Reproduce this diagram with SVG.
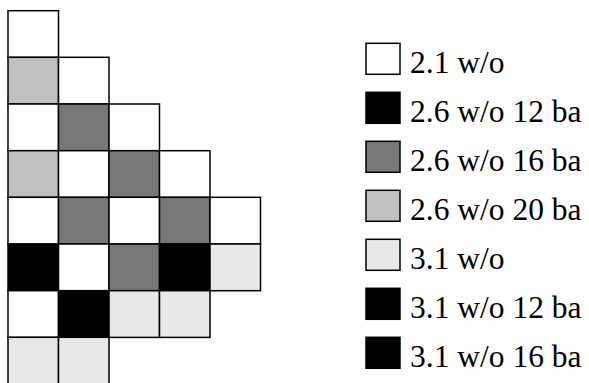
<svg xmlns="http://www.w3.org/2000/svg" width="589" height="383" viewBox="0 0 589 383">
<style>
.c{stroke:#000;stroke-width:1.5}
.w{fill:#fff}.k{fill:#000}.d{fill:#777}.l{fill:#c0c0c0}.v{fill:#e8e8e8}
.t{font-family:"Liberation Serif","Times New Roman",serif;font-size:31.5px;fill:#000}
</style>
<rect width="589" height="383" fill="#fff"/>
<g id="grid">
<rect class="c w" x="8" y="10.7" width="50.5" height="46.7"/>
<rect class="c l" x="8" y="57.3" width="50.5" height="46.7"/>
<rect class="c w" x="58.5" y="57.3" width="50.5" height="46.7"/>
<rect class="c w" x="8" y="104" width="50.5" height="46.7"/>
<rect class="c d" x="58.5" y="104" width="50.5" height="46.7"/>
<rect class="c w" x="109" y="104" width="50.5" height="46.7"/>
<rect class="c l" x="8" y="150.7" width="50.5" height="46.7"/>
<rect class="c w" x="58.5" y="150.7" width="50.5" height="46.7"/>
<rect class="c d" x="109" y="150.7" width="50.5" height="46.7"/>
<rect class="c w" x="159.5" y="150.7" width="50.5" height="46.7"/>
<rect class="c w" x="8" y="197.3" width="50.5" height="46.7"/>
<rect class="c d" x="58.5" y="197.3" width="50.5" height="46.7"/>
<rect class="c w" x="109" y="197.3" width="50.5" height="46.7"/>
<rect class="c d" x="159.5" y="197.3" width="50.5" height="46.7"/>
<rect class="c w" x="210" y="197.3" width="50.5" height="46.7"/>
<rect class="c k" x="8" y="244" width="50.5" height="46.7"/>
<rect class="c w" x="58.5" y="244" width="50.5" height="46.7"/>
<rect class="c d" x="109" y="244" width="50.5" height="46.7"/>
<rect class="c k" x="159.5" y="244" width="50.5" height="46.7"/>
<rect class="c v" x="210" y="244" width="50.5" height="46.7"/>
<rect class="c w" x="8" y="290.7" width="50.5" height="46.7"/>
<rect class="c k" x="58.5" y="290.7" width="50.5" height="46.7"/>
<rect class="c v" x="109" y="290.7" width="50.5" height="46.7"/>
<rect class="c v" x="159.5" y="290.7" width="50.5" height="46.7"/>
<rect class="c v" x="8" y="337.3" width="50.5" height="46.7"/>
<rect class="c v" x="58.5" y="337.3" width="50.5" height="46.7"/>
</g>
<g id="legend">
<g id="leg1"><rect class="c w" x="366" y="43.3" width="34" height="31"/><text class="t" x="410" y="73.3">2.1 w/o</text></g>
<g id="leg2"><rect class="c k" x="366" y="92.3" width="34" height="31"/><text class="t" x="410" y="122.3">2.6 w/o 12 ba</text></g>
<g id="leg3"><rect class="c d" x="366" y="141.3" width="34" height="31"/><text class="t" x="410" y="171.3">2.6 w/o 16 ba</text></g>
<g id="leg4"><rect class="c l" x="366" y="190.3" width="34" height="31"/><text class="t" x="410" y="220.3">2.6 w/o 20 ba</text></g>
<g id="leg5"><rect class="c v" x="366" y="239.3" width="34" height="31"/><text class="t" x="410" y="269.3">3.1 w/o</text></g>
<g id="leg6"><rect class="c k" x="366" y="288.3" width="34" height="31"/><text class="t" x="410" y="318.3">3.1 w/o 12 ba</text></g>
<g id="leg7"><rect class="c k" x="366" y="337.3" width="34" height="31"/><text class="t" x="410" y="367.3">3.1 w/o 16 ba</text></g>
</g>
</svg>
